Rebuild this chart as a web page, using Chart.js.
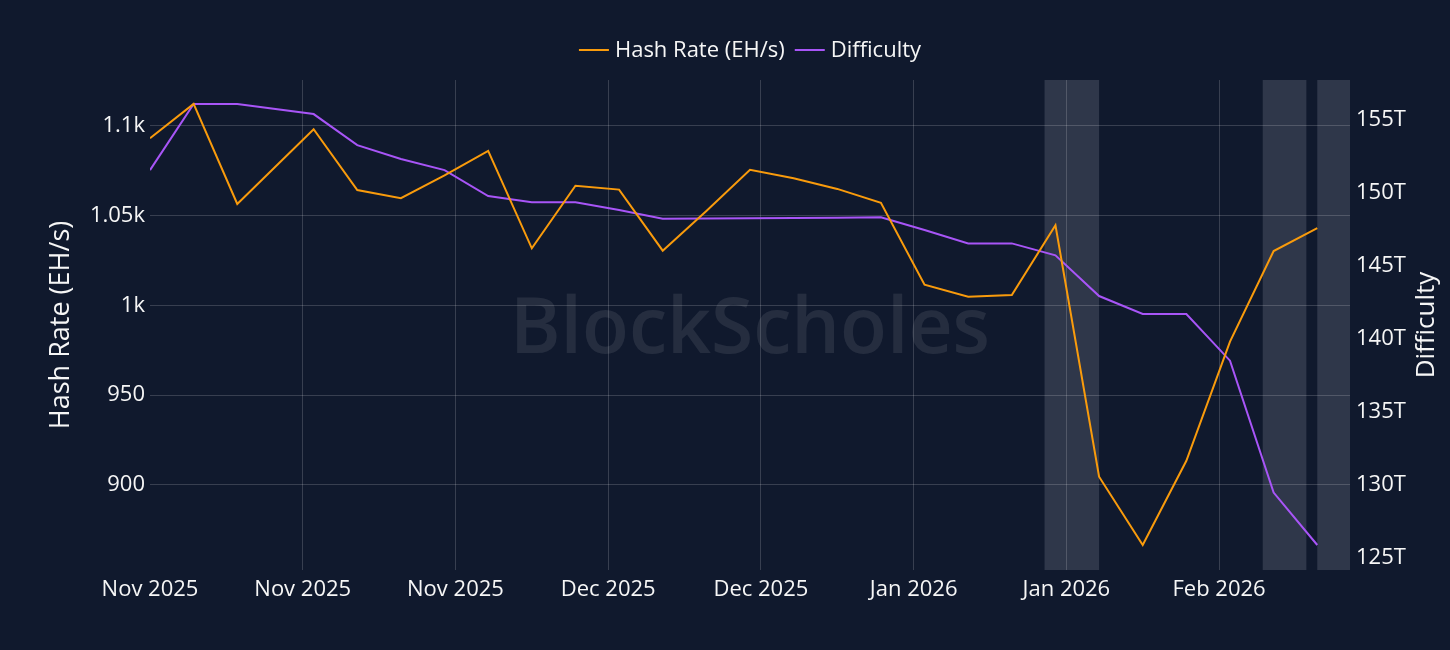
<!DOCTYPE html>
<html lang="en">
<head>
  <meta charset="UTF-8">
  <title>Hash Rate vs Difficulty</title>
  <script src="https://cdn.jsdelivr.net/npm/chart.js"></script>
  <style>
    html, body {
      margin: 0;
      padding: 0;
      background: #10192d;
    }
  </style>
</head>
<body>
  <canvas id="chart" width="1450" height="650"></canvas>

  <script>
    // Data
    const startDate = '2025-11-02';
    const endDate = '2026-02-20';
    const dates = [
      '2025-11-02', '2025-11-06', '2025-11-10', '2025-11-17', '2025-11-21', '2025-11-25', '2025-11-29',
      '2025-12-03', '2025-12-07', '2025-12-11', '2025-12-15', '2025-12-19', '2025-12-23', '2025-12-27',
      '2025-12-31', '2026-01-04', '2026-01-08', '2026-01-12', '2026-01-16', '2026-01-20', '2026-01-24',
      '2026-01-28', '2026-02-01', '2026-02-05', '2026-02-09', '2026-02-13', '2026-02-17'
    ];
    const hashRate = [
      1093.1, 1112.3, 1056.5, 1098.2, 1064.3, 1059.7, 1072.5,
      1086.1, 1031.8, 1066.7, 1064.5, 1030.5, 1052.6, 1075.5,
      1070.8, 1064.9, 1057.2, 1011.5, 1004.8, 1005.8, 1044.6,
      904.5, 866.4, 913.4, 979.8, 1030.3, 1043.0
    ];
    const difficulty = [ // trillions
      151.53, 156.05, 156.05, 155.36, 153.24, 152.29, 151.53,
      149.76, 149.33, 149.33, 148.80, 148.21, 148.22, 148.23,
      148.25, 148.27, 148.30, 147.43, 146.52, 146.52, 145.70,
      142.92, 141.69, 141.69, 138.50, 129.48, 125.90
    ];

    const tickDates = ['2025-11-02', '2025-11-16', '2025-11-30', '2025-12-14', '2025-12-28', '2026-01-11', '2026-01-25', '2026-02-08'];
    const tickLabels = ['Nov 2025', 'Nov 2025', 'Nov 2025', 'Dec 2025', 'Dec 2025', 'Jan 2026', 'Jan 2026', 'Feb 2026'];
    const hashTicks = [900, 950, 1000, 1050, 1100];
    const hashTickLabels = ['900', '950', '1k', '1.05k', '1.1k'];
    const diffTicks = [125, 130, 135, 140, 145, 150, 155];
    const diffTickLabels = ['125T', '130T', '135T', '140T', '145T', '150T', '155T'];

    // shaded periods
    const bandStarts = ['2026-01-23', '2026-02-12', '2026-02-17'];
    const bandEnds = ['2026-01-28', '2026-02-16', '2026-02-20'];

    const bg = '#10192d';
    const textColor = '#f6f6f6';
    const gridColor = 'rgba(255, 255, 255, 0.17)';
    const fontFamily = '"Open Sans", sans-serif';

    const dayOf = d => (Date.parse(d) - Date.parse(startDate)) / 86400000;

    // background, bands, watermark, legend and right title
    const decor = {
      id: 'decor',
      beforeDraw(chart) {
        const { ctx, chartArea: a, scales: { x } } = chart;
        ctx.save();
        ctx.fillStyle = bg;
        ctx.fillRect(0, 0, chart.width, chart.height);

        ctx.fillStyle = 'rgba(225, 225, 240, 0.15)';
        bandStarts.forEach((s, i) => {
          const x0 = x.getPixelForValue(dayOf(s));
          const x1 = x.getPixelForValue(dayOf(bandEnds[i]));
          ctx.fillRect(x0, a.top, x1 - x0, a.bottom - a.top);
        });

        ctx.font = '600 78px ' + fontFamily;
        ctx.fillStyle = 'rgba(255, 255, 255, 0.09)';
        ctx.textAlign = 'center';
        ctx.textBaseline = 'alphabetic';
        ctx.fillText('BlockScholes', (a.left + a.right) / 2, 353, 480);
        ctx.restore();
      },
      afterDraw(chart) {
        const { ctx } = chart;
        ctx.save();
        // legend
        ctx.font = '22px ' + fontFamily;
        ctx.textBaseline = 'middle';
        ctx.textAlign = 'left';
        const sets = chart.data.datasets;
        const sample = 30, gap = 6, between = 10;
        const widths = sets.map(ds => sample + gap + ctx.measureText(ds.label).width);
        const total = widths.reduce((s, w) => s + w, 0) + between * (sets.length - 1);
        let cx = 750 - total / 2;
        const ly = 50;
        sets.forEach((ds, i) => {
          ctx.strokeStyle = ds.borderColor;
          ctx.lineWidth = 2;
          ctx.beginPath();
          ctx.moveTo(cx, ly);
          ctx.lineTo(cx + sample, ly);
          ctx.stroke();
          ctx.fillStyle = textColor;
          ctx.fillText(ds.label, cx + sample + gap, ly + 1);
          cx += widths[i] + between;
        });

        // right axis title, reading bottom to top
        const a = chart.chartArea;
        ctx.translate(1427, (a.top + a.bottom) / 2);
        ctx.rotate(-Math.PI / 2);
        ctx.font = '26px ' + fontFamily;
        ctx.textAlign = 'center';
        ctx.fillText('Difficulty', 0, 0);
        ctx.restore();
      }
    };

    const ctx = document.getElementById('chart').getContext('2d');

    new Chart(ctx, {
      type: 'line',
      data: {
        datasets: [
          {
            label: 'Hash Rate (EH/s)',
            data: dates.map((d, i) => ({ x: dayOf(d), y: hashRate[i] })),
            borderColor: '#f99b0c',
            backgroundColor: '#f99b0c',
            borderWidth: 2,
            pointRadius: 0,
            tension: 0,
            yAxisID: 'y'
          },
          {
            label: 'Difficulty',
            data: dates.map((d, i) => ({ x: dayOf(d), y: difficulty[i] })),
            borderColor: '#a855f7',
            backgroundColor: '#a855f7',
            borderWidth: 2,
            pointRadius: 0,
            tension: 0,
            yAxisID: 'y2'
          }
        ]
      },
      options: {
        responsive: false,
        animation: false,
        devicePixelRatio: 1,
        layout: { padding: { top: 80, left: 0, right: 0, bottom: 0 } },
        plugins: {
          legend: { display: false },
          tooltip: { enabled: false }
        },
        scales: {
          x: {
            type: 'linear',
            min: 0,
            max: dayOf(endDate),
            afterBuildTicks: s => { s.ticks = tickDates.map(d => ({ value: dayOf(d) })); },
            afterFit: s => { s.height = 80; },
            ticks: {
              callback: (v, i) => tickLabels[i],
              color: textColor,
              font: { family: fontFamily, size: 22 },
              padding: 7,
              maxRotation: 0,
              autoSkip: false
            },
            grid: {
              color: c => (c.tick && c.tick.value === 0) ? 'transparent' : gridColor,
              drawTicks: false
            },
            border: { display: false }
          },
          y: {
            position: 'left',
            min: 852.5,
            max: 1125.6,
            afterBuildTicks: s => { s.ticks = hashTicks.map(v => ({ value: v })); },
            afterFit: s => { s.width = 150; },
            ticks: {
              callback: (v, i) => hashTickLabels[i],
              color: textColor,
              font: { family: fontFamily, size: 22 },
              padding: 5
            },
            grid: { color: gridColor, drawTicks: false },
            border: { display: false },
            title: {
              display: true,
              text: 'Hash Rate (EH/s)',
              color: textColor,
              font: { family: fontFamily, size: 27 },
              padding: { top: 45, bottom: 0 }
            }
          },
          y2: {
            position: 'right',
            min: 124.19,
            max: 157.69,
            afterBuildTicks: s => { s.ticks = diffTicks.map(v => ({ value: v })); },
            afterFit: s => { s.width = 100; },
            ticks: {
              callback: (v, i) => diffTickLabels[i],
              color: textColor,
              font: { family: fontFamily, size: 22 },
              padding: 6
            },
            grid: { display: false, drawTicks: false },
            border: { display: false }
          }
        }
      },
      plugins: [decor]
    });
  </script>
</body>
</html>
